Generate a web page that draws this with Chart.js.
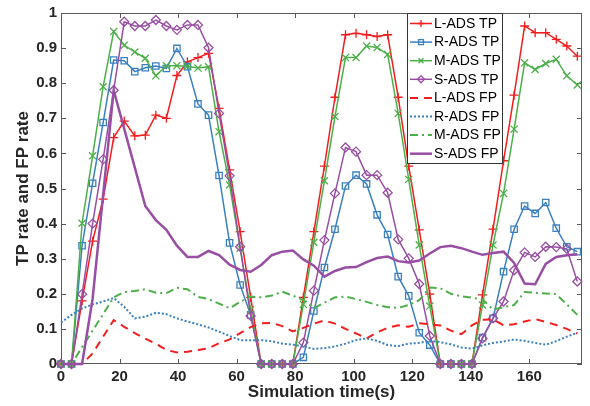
<!DOCTYPE html>
<html>
<head>
<meta charset="utf-8">
<script src="https://cdn.jsdelivr.net/npm/chart.js@4.4.1/dist/chart.umd.min.js"></script>
<style>
  html, body { margin: 0; padding: 0; background: #fff; }
  #wrap { width: 590px; height: 406px; }
</style>
</head>
<body>
<div id="wrap"><canvas id="rateChart" width="590" height="406"></canvas></div>
<script>
// Simulation time stamps (s)
const simTime = [0, 3.6, 7.2, 10.8, 14.4, 18, 21.6, 25.2, 28.8, 32.4,
  36, 39.6, 43.2, 46.8, 50.4, 54, 57.6, 61.2, 64.8, 68.4,
  72, 75.6, 79.2, 82.8, 86.4, 90, 93.6, 97.2, 100.8, 104.4,
  108, 111.6, 115.2, 118.8, 122.4, 126, 129.6, 133.2, 136.8, 140.4,
  144, 147.6, 151.2, 154.8, 158.4, 162, 165.6, 169.2, 172.8, 176.4];

// TP rates
const lAdsTP = [0, 0, 0.18, 0.35, 0.47, 0.645, 0.692, 0.65, 0.652, 0.709,
  0.7, 0.822, 0.861, 0.873, 0.885, 0.728, 0.553, 0.377, 0.19, 0,
  0, 0, 0, 0.19, 0.377, 0.564, 0.76, 0.938, 0.942, 0.938,
  0.933, 0.938, 0.76, 0.564, 0.382, 0.199, 0, 0, 0, 0,
  0.197, 0.384, 0.579, 0.766, 0.963, 0.944, 0.944, 0.925, 0.906, 0.877];
const rAdsTP = [0, 0, 0.337, 0.515, 0.688, 0.866, 0.864, 0.833, 0.844, 0.849,
  0.842, 0.899, 0.847, 0.741, 0.709, 0.537, 0.345, 0.225, 0.14, 0,
  0, 0, 0, 0.019, 0.151, 0.275, 0.384, 0.507, 0.538, 0.513,
  0.425, 0.369, 0.249, 0.194, 0.089, 0.054, 0, 0, 0, 0,
  0.075, 0.13, 0.263, 0.384, 0.45, 0.429, 0.46, 0.387, 0.334, 0.32];
const mAdsTP = [0, 0, 0.401, 0.593, 0.79, 0.947, 0.908, 0.889, 0.871, 0.821,
  0.85, 0.85, 0.848, 0.843, 0.847, 0.662, 0.51, 0.33, 0.154, 0,
  0, 0, 0, 0.17, 0.347, 0.522, 0.705, 0.873, 0.873, 0.906,
  0.902, 0.882, 0.714, 0.526, 0.339, 0.165, 0, 0, 0, 0,
  0.168, 0.339, 0.486, 0.669, 0.858, 0.839, 0.856, 0.868, 0.821, 0.795];
const sAdsTP = [0, 0, 0.199, 0.4, 0.583, 0.78, 0.975, 0.963, 0.963, 0.98,
  0.963, 0.952, 0.966, 0.966, 0.901, 0.714, 0.536, 0.334, 0.137, 0,
  0, 0, 0, 0.061, 0.209, 0.353, 0.486, 0.617, 0.605, 0.538,
  0.538, 0.488, 0.355, 0.301, 0.228, 0.08, 0, 0, 0, 0,
  0.073, 0.13, 0.178, 0.267, 0.318, 0.305, 0.334, 0.333, 0.328, 0.235];

// FP rates
const lAdsFP = [0, 0, 0, 0.03, 0.078, 0.125, 0.106, 0.088, 0.072, 0.058,
  0.04, 0.033, 0.035, 0.04, 0.045, 0.059, 0.07, 0.088, 0.105, 0.116,
  0.117, 0.108, 0.093, 0.103, 0.115, 0.124, 0.115, 0.1, 0.087, 0.073,
  0.09, 0.103, 0.11, 0.106, 0.116, 0.113, 0.11, 0.095, 0.085, 0.11,
  0.126, 0.127, 0.11, 0.113, 0.121, 0.128, 0.12, 0.111, 0.1, 0.087];
const rAdsFP = [0.118, 0.14, 0.158, 0.17, 0.178, 0.188, 0.163, 0.13, 0.135, 0.146,
  0.142, 0.13, 0.121, 0.113, 0.104, 0.092, 0.08, 0.068, 0.068, 0.068,
  0.065, 0.058, 0.055, 0.05, 0.043, 0.045, 0.05, 0.058, 0.068, 0.073,
  0.066, 0.054, 0.051, 0.058, 0.06, 0.066, 0.062, 0.056, 0.047, 0.044,
  0.053, 0.06, 0.064, 0.07, 0.066, 0.06, 0.055, 0.065, 0.078, 0.089];
const mAdsFP = [0, 0, 0.048, 0.095, 0.142, 0.19, 0.205, 0.208, 0.213, 0.203,
  0.202, 0.217, 0.213, 0.191, 0.185, 0.172, 0.159, 0.177, 0.192, 0.19,
  0.195, 0.206, 0.195, 0.182, 0.159, 0.175, 0.19, 0.192, 0.185, 0.177,
  0.168, 0.162, 0.16, 0.168, 0.182, 0.218, 0.216, 0.2, 0.193, 0.189,
  0.184, 0.155, 0.162, 0.168, 0.205, 0.203, 0.201, 0.199, 0.17, 0.14];
const sAdsFP = [0, 0, 0, 0.186, 0.482, 0.78, 0.67, 0.56, 0.45, 0.41,
  0.382, 0.337, 0.305, 0.305, 0.322, 0.31, 0.283, 0.268, 0.263, 0.282,
  0.31, 0.32, 0.323, 0.298, 0.28, 0.249, 0.265, 0.275, 0.276, 0.29,
  0.302, 0.306, 0.293, 0.289, 0.295, 0.315, 0.333, 0.337, 0.33, 0.32,
  0.311, 0.316, 0.32, 0.288, 0.229, 0.227, 0.285, 0.305, 0.31, 0.313];

// Axis ticks
const xTicks = [0, 20, 40, 60, 80, 100, 120, 140, 160];
const yTicks = [0, 0.1, 0.2, 0.3, 0.4, 0.5, 0.6, 0.7, 0.8, 0.9, 1];
const yTickLabels = ['0', '0.1', '0.2', '0.3', '0.4', '0.5', '0.6', '0.7', '0.8', '0.9', '1'];

const FONT = "'Liberation Sans', Arial, Helvetica, sans-serif";
const RED = '#f01e1e';
const BLUE = '#3a80bf';
const GREEN = '#4daf4a';
const PURPLE = '#984ea3';

// Series styling (same order as the legend)
const series = [
  { label: 'L-ADS TP', values: lAdsTP, color: RED,    marker: 'cross',    radius: 4.5 },
  { label: 'R-ADS TP', values: rAdsTP, color: BLUE,   marker: 'rect',     radius: 4.5 },
  { label: 'M-ADS TP', values: mAdsTP, color: GREEN,  marker: 'crossRot', radius: 5 },
  { label: 'S-ADS TP', values: sAdsTP, color: PURPLE, marker: 'rectRot',  radius: 4.5 },
  { label: 'L-ADS FP', values: lAdsFP, color: RED,    dash: [8, 6],       width: 2 },
  { label: 'R-ADS FP', values: rAdsFP, color: BLUE,   dash: [2, 2],       width: 2 },
  { label: 'M-ADS FP', values: mAdsFP, color: GREEN,  dash: [8, 4, 2, 4], width: 2 },
  { label: 'S-ADS FP', values: sAdsFP, color: PURPLE, dash: [],           width: 2.5 }
];

const datasets = series.map((s, i) => ({
  label: s.label,
  data: simTime.map((t, k) => ({ x: t, y: s.values[k] })),
  borderColor: s.color,
  borderWidth: s.marker ? 1.5 : s.width,
  borderDash: s.dash || [],
  pointStyle: s.marker || 'circle',
  pointRadius: s.marker ? s.radius : 0,
  pointBorderColor: s.color,
  pointBackgroundColor: 'rgba(0,0,0,0)',
  pointBorderWidth: 1.3,
  tension: 0,
  clip: false,
  order: series.length - i
}));

function drawMarker(ctx, style, x, y, r) {
  ctx.beginPath();
  if (style === 'cross') {
    ctx.moveTo(x - r, y); ctx.lineTo(x + r, y);
    ctx.moveTo(x, y - r); ctx.lineTo(x, y + r);
  } else if (style === 'crossRot') {
    const d = r * Math.SQRT1_2;
    ctx.moveTo(x - d, y - d); ctx.lineTo(x + d, y + d);
    ctx.moveTo(x - d, y + d); ctx.lineTo(x + d, y - d);
  } else if (style === 'rect') {
    const d = r * Math.SQRT1_2;
    ctx.rect(x - d, y - d, 2 * d, 2 * d);
  } else if (style === 'rectRot') {
    ctx.moveTo(x, y - r); ctx.lineTo(x + r, y);
    ctx.lineTo(x, y + r); ctx.lineTo(x - r, y);
    ctx.closePath();
  }
  ctx.stroke();
}

// Box around the axes with inward ticks on all four sides
const frameTicks = {
  id: 'frameTicks',
  beforeDatasetsDraw(chart) {
    const { ctx, chartArea: a, scales: { x, y } } = chart;
    const len = 5;
    ctx.save();
    ctx.strokeStyle = '#5a5a5a';
    ctx.lineWidth = 1;
    ctx.strokeRect(a.left + 0.5, a.top + 0.5, a.right - a.left - 1, a.bottom - a.top - 1);
    ctx.beginPath();
    x.ticks.forEach(t => {
      const px = Math.round(x.getPixelForValue(t.value)) + 0.5;
      ctx.moveTo(px, a.bottom); ctx.lineTo(px, a.bottom - len);
      ctx.moveTo(px, a.top); ctx.lineTo(px, a.top + len);
    });
    y.ticks.forEach(t => {
      const py = Math.round(y.getPixelForValue(t.value)) + 0.5;
      ctx.moveTo(a.left, py); ctx.lineTo(a.left + len, py);
      ctx.moveTo(a.right, py); ctx.lineTo(a.right - len, py);
    });
    ctx.stroke();
    ctx.restore();
  }
};

// Boxed legend in the upper part of the plot
const boxLegend = {
  id: 'boxLegend',
  afterDraw(chart) {
    const ctx = chart.ctx;
    const left = 407, top = 13, width = 95, rowH = 18.6, height = 150;
    ctx.save();
    ctx.fillStyle = '#fff';
    ctx.fillRect(left, top, width, height);
    ctx.strokeStyle = '#333';
    ctx.lineWidth = 1;
    ctx.strokeRect(left + 0.5, top + 0.5, width, height);
    ctx.font = '14px ' + FONT;
    ctx.textBaseline = 'middle';
    series.forEach((s, i) => {
      const cy = top + 10.5 + i * rowH;
      ctx.strokeStyle = s.color;
      ctx.lineWidth = s.marker ? 1.5 : s.width;
      ctx.setLineDash(s.dash || []);
      ctx.beginPath();
      ctx.moveTo(410, cy); ctx.lineTo(432, cy);
      ctx.stroke();
      ctx.setLineDash([]);
      if (s.marker) {
        ctx.lineWidth = 1.3;
        drawMarker(ctx, s.marker, 421, cy, 3.5);
      }
      ctx.fillStyle = '#000';
      ctx.fillText(s.label, 434, cy + 0.5);
    });
    ctx.restore();
  }
};

new Chart(document.getElementById('rateChart'), {
  type: 'line',
  data: { datasets },
  options: {
    responsive: false,
    animation: false,
    devicePixelRatio: 1,
    layout: { padding: { top: 13, right: 8, left: 0, bottom: 0 } },
    plugins: {
      legend: { display: false },
      tooltip: { enabled: false }
    },
    scales: {
      x: {
        type: 'linear',
        min: 0,
        max: 178,
        afterBuildTicks: s => { s.ticks = xTicks.map(v => ({ value: v })); },
        afterFit: s => { s.height = 42; },
        grid: { display: false, drawTicks: false },
        border: { display: false },
        ticks: {
          color: '#262626',
          padding: 4,
          maxRotation: 0,
          autoSkip: false,
          font: { family: FONT, size: 15, weight: 'bold' }
        },
        title: {
          display: true,
          text: 'Simulation time(s)',
          color: '#262626',
          font: { family: FONT, size: 17, weight: 'bold' },
          padding: { top: 0, bottom: 3 }
        }
      },
      y: {
        type: 'linear',
        min: 0,
        max: 1,
        afterBuildTicks: s => { s.ticks = yTicks.map(v => ({ value: v })); },
        afterFit: s => { s.width = 61; },
        grid: { display: false, drawTicks: false },
        border: { display: false },
        ticks: {
          color: '#262626',
          padding: 4,
          autoSkip: false,
          font: { family: FONT, size: 15, weight: 'bold' },
          callback: (v, i) => yTickLabels[i]
        },
        title: {
          display: true,
          text: 'TP rate and FP rate',
          color: '#262626',
          font: { family: FONT, size: 17, weight: 'bold' },
          padding: { top: 13, bottom: 0 }
        }
      }
    }
  },
  plugins: [frameTicks, boxLegend]
});
</script>
</body>
</html>
